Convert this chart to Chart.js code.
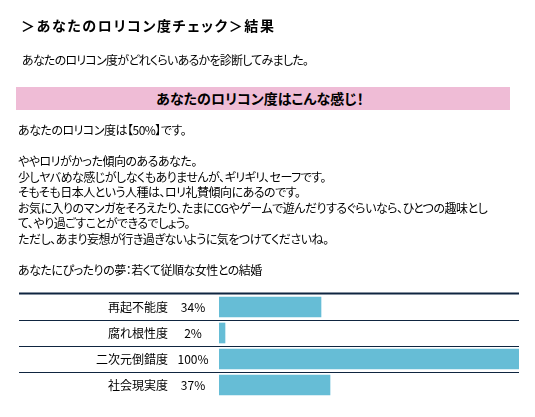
<!DOCTYPE html>
<html lang="ja">
<head>
<meta charset="utf-8">
<title>あなたのロリコン度チェック＞結果</title>
<script src="https://cdn.jsdelivr.net/npm/chart.js@4.4.1/dist/chart.umd.min.js"></script>
<style>
    html, body { margin: 0; padding: 0; background: #fff; }
    body {
        width: 535px; height: 417px; position: relative; overflow: hidden;
        font-family: "Noto Sans CJK JP", "Noto Sans", sans-serif;
        font-feature-settings: "palt";
        color: #000;
    }
    #chart { position: absolute; left: 0; top: 0; }
    .blk { position: absolute; white-space: nowrap; }
    #title { left: 21px; top: 15px; font-size: 14px; font-weight: bold; letter-spacing: 1.6px; line-height: 20px; }
    #lead { left: 22px; top: 52px; font-size: 12px; line-height: 16px; letter-spacing: -0.75px; }
    #band {
        left: 16px; top: 87px; width: 494px; height: 23px; background: #efbcd6;
        text-align: center; font-size: 14px; font-weight: bold; line-height: 23px;
        text-indent: -6px;
    }
    #body { left: 18px; top: 122px; font-size: 12px; line-height: 15.5px; letter-spacing: -0.5px; }
</style>
</head>
<body>
<canvas id="chart" width="535" height="417"></canvas>
<div class="blk" id="title">＞あなたのロリコン度チェック＞結果</div>
<div class="blk" id="lead">あなたのロリコン度がどれくらいあるかを診断してみました。</div>
<div class="blk" id="band">あなたのロリコン度はこんな感じ！</div>
<div class="blk" id="body">あなたのロリコン度は【50%】です。<br>
<br>
ややロリがかった傾向のあるあなた。<br>
少しヤバめな感じがしなくもありませんが、ギリギリ、セーフです。<br>
そもそも日本人という人種は、ロリ礼賛傾向にあるのです。<br>
お気に入りのマンガをそろえたり、たまにCGやゲームで遊んだりするぐらいなら、ひとつの趣味とし<br>
て、やり過ごすことができるでしょう。<br>
ただし、あまり妄想が行き過ぎないように気をつけてくださいね。<br>
<br>
あなたにぴったりの夢：若くて従順な女性との結婚</div>
<script>
// --- Data ---
const categories = ['再起不能度', '腐れ根性度', '二次元倒錯度', '社会現実度'];
const scores = [34, 2, 100, 37];
const scoreLabels = ['34%', '2%', '100%', '37%'];

// --- Styling ---
const barColor = '#66bdd6';
const lineColor = '#0f2540';
const labelFont = '12px "Noto Sans CJK JP", sans-serif';

// row separators, drawn from the category scale
const rowLines = {
    id: 'rowLines',
    afterDatasetsDraw(chart) {
        const { ctx, chartArea, scales: { y } } = chart;
        const half = (y.getPixelForValue(1) - y.getPixelForValue(0)) / 2;
        ctx.save();
        ctx.strokeStyle = lineColor;
        categories.forEach((_, i) => {
            const top = y.getPixelForValue(i) - half;
            ctx.lineWidth = i === 0 ? 2 : 1;
            const yy = i === 0 ? Math.round(top) - 0.5 : Math.round(top) + 0.5;
            ctx.beginPath();
            ctx.moveTo(19, yy);
            ctx.lineTo(chartArea.right, yy);
            ctx.stroke();
        });
        ctx.restore();
    }
};

// percent column between labels and bars
const percentLabels = {
    id: 'percentLabels',
    afterDatasetsDraw(chart) {
        const { ctx, chartArea, scales: { y } } = chart;
        ctx.save();
        ctx.font = labelFont;
        ctx.fillStyle = '#000';
        ctx.textAlign = 'center';
        ctx.textBaseline = 'middle';
        scoreLabels.forEach((txt, i) => {
            ctx.fillText(txt, chartArea.left - 26, y.getPixelForValue(i));
        });
        ctx.restore();
    }
};

new Chart(document.getElementById('chart').getContext('2d'), {
    type: 'bar',
    data: {
        labels: categories,
        datasets: [{
            data: scores,
            backgroundColor: barColor,
            borderWidth: 0,
            barThickness: 20
        }]
    },
    options: {
        indexAxis: 'y',
        responsive: false,
        animation: false,
        layout: { padding: { top: 294, bottom: 19, left: 0, right: 16 } },
        plugins: { legend: { display: false }, tooltip: { enabled: false } },
        scales: {
            x: { display: false, min: 0, max: 100 },
            y: {
                grid: { display: false, drawTicks: false },
                border: { display: false },
                ticks: {
                    color: '#000',
                    padding: 51,
                    font: { family: '"Noto Sans CJK JP", sans-serif', size: 12 }
                },
                afterFit: (scale) => {
                    scale.width = 219;
                    // tick padding would otherwise squeeze the rows
                    scale.paddingTop = 0;
                    scale.paddingBottom = 0;
                }
            }
        }
    },
    plugins: [rowLines, percentLabels]
});
</script>
</body>
</html>
